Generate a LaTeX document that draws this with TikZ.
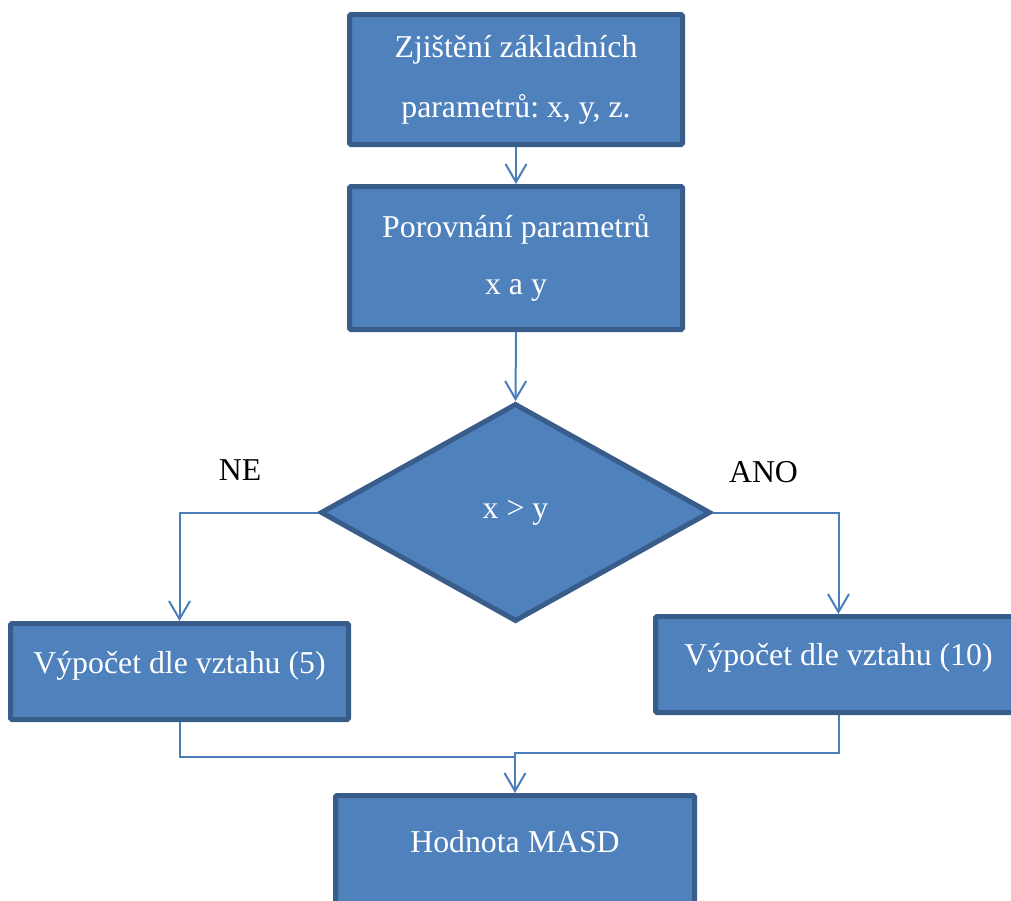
\documentclass[tikz,border=0pt]{standalone}
\usepackage{fontspec}
\setmainfont{Liberation Serif}
\usetikzlibrary{shapes.geometric,arrows.meta}
\frenchspacing

\definecolor{boxfill}{RGB}{79,129,189}
\definecolor{boxline}{RGB}{56,93,138}
\definecolor{connline}{RGB}{74,126,187}

\tikzset{
  labelfont/.style={font=\fontsize{31.8}{60}\selectfont},
  procbox/.style={rectangle, draw=boxline, fill=boxfill, line width=5pt,
    rounded corners=1.5pt, text=white, inner sep=0pt, labelfont, align=center},
  decision/.style={diamond, draw=boxline, fill=boxfill, line width=5pt,
    text=white, inner sep=0pt, labelfont,
    minimum width=390pt, minimum height=218pt},
  branchlabel/.style={text=black, inner sep=0pt, labelfont},
  conn/.style={draw=connline, line width=2pt},
  flow/.style={conn, -{Straight Barb[length=18pt,width=21pt]}},
}

\begin{document}
\begin{tikzpicture}[x=1pt,y=-1pt]
  \useasboundingbox (0,0) rectangle (1011,900);
  \clip (0,0) rectangle (1011,900);

  % process steps
  \node[procbox, minimum width=333pt, minimum height=130pt] (start) at (516,79.5)
    {Zjištění základních\\parametrů: x, y, z.};
  \node[procbox, minimum width=333pt, minimum height=143pt] (compare) at (516,258)
    {Porovnání parametrů\\[-3pt]x a y};

  % decision
  \node[decision] (test) at (515.5,512.5) {x > y};

  % branches
  \node[procbox, minimum width=338pt, text height=49.5pt, text depth=46.5pt,
        anchor=base] (calcA) at (179.5,673) {Výpočet dle vztahu (5)};
  \node[procbox, minimum width=366pt, text height=48.5pt, text depth=47.5pt,
        anchor=base] (calcB) at (838.5,665) {Výpočet dle vztahu (10)};

  % result
  \node[procbox, minimum width=359pt, text height=56.5pt, text depth=60pt,
        anchor=base] (result) at (515,852) {Hodnota MASD};

  % branch labels
  \node[branchlabel] (no)  at (240,470)   {NE};
  \node[branchlabel] (yes) at (763.5,472) {ANO};

  % connectors
  \draw[flow] (start.south) -- (compare.north);
  \draw[flow] (compare.south) -- (test.north);
  \draw[flow] (test.west) -| (calcA.north);
  \draw[flow] (test.east) -| (calcB.north);

  \coordinate (joinA) at (515,757);
  \coordinate (joinB) at (515,753);
  \draw[conn] (calcA.south) |- (joinA);
  \draw[flow] (calcB.south) |- (joinB) -- (result.north);
\end{tikzpicture}
\end{document}
